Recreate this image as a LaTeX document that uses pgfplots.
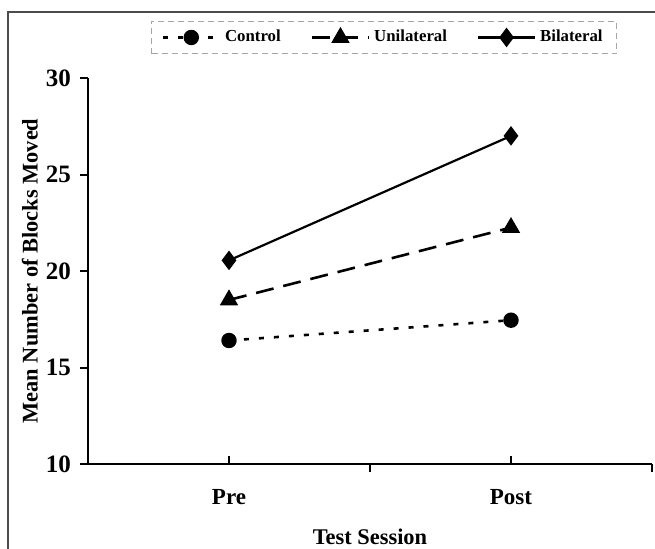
\documentclass[border=0pt]{standalone}
\usepackage{fontspec}
\setmainfont{Liberation Serif}
\usepackage{pgfplots}
\pgfplotsset{compat=1.18}
\begin{document}
\begin{tikzpicture}
\useasboundingbox (-44pt,-42pt) rectangle (283.5pt,232pt);
\draw[line width=0.7pt, black!70] (-40pt,-50pt) -- (-40pt,226pt) -- (300pt,226pt);
\begin{axis}[
  scale only axis, width=282pt, height=193pt,
  xmin=0, xmax=2, ymin=10, ymax=30,
  axis x line=bottom, axis y line=left,
  axis line style={line width=1.1pt, -},
  xtick={0.5,1.5}, xticklabels={Pre,Post},
  ytick={10,15,20,25,30},
  xtick align=inside, ytick align=outside,
  major tick length=4pt,
  tick style={line width=1pt, black},
  extra x ticks={1,2}, extra x tick labels={},
  extra x tick style={xtick align=outside, major tick length=4pt},
  /pgf/number format/assume math mode=true,
  xticklabel style={font=\fontsize{11.5}{13}\selectfont\bfseries, yshift=-9pt},
  yticklabel style={font=\fontsize{12.5}{14}\selectfont\bfseries, xshift=-1pt},
  xlabel={Test Session},
  ylabel={Mean Number of Blocks Moved},
  label style={font=\fontsize{11.2}{13}\selectfont\bfseries},
  xlabel style={at={(axis description cs:0.5,-0.189)}, anchor=center},
  ylabel style={at={(axis description cs:-0.103,0.5)}, anchor=center},
  legend columns=3,
  legend style={at={(axis description cs:0.525,1.105)}, anchor=center,
    draw=black!35, densely dashed, font=\fontsize{8.4}{10}\selectfont\bfseries,
    inner xsep=5pt, inner ysep=2.5pt,
    /tikz/every even column/.append style={column sep=13pt}},
  legend image code/.code={\draw[mark repeat=2,mark phase=2,#1] plot coordinates {(0cm,0cm)(0.5cm,0cm)(1.0cm,0cm)};},
  clip=false,
]
\addplot[black, line width=1.3pt, dash pattern=on 2.5pt off 5pt, mark=*, mark size=3.2pt, mark options={solid}]
  coordinates {(0.5,16.4) (1.5,17.45)};
\addlegendentry{Control}
\addplot[black, line width=1.3pt, dash pattern=on 9pt off 5pt, mark=triangle*, mark size=4pt, mark options={solid}]
  coordinates {(0.5,18.5) (1.5,22.25)};
\addlegendentry{Unilateral}
\addplot[black, line width=1.1pt, mark=diamond*, mark size=4pt, mark options={solid}]
  coordinates {(0.5,20.55) (1.5,27.0)};
\addlegendentry{Bilateral}
\end{axis}
\end{tikzpicture}
\end{document}
